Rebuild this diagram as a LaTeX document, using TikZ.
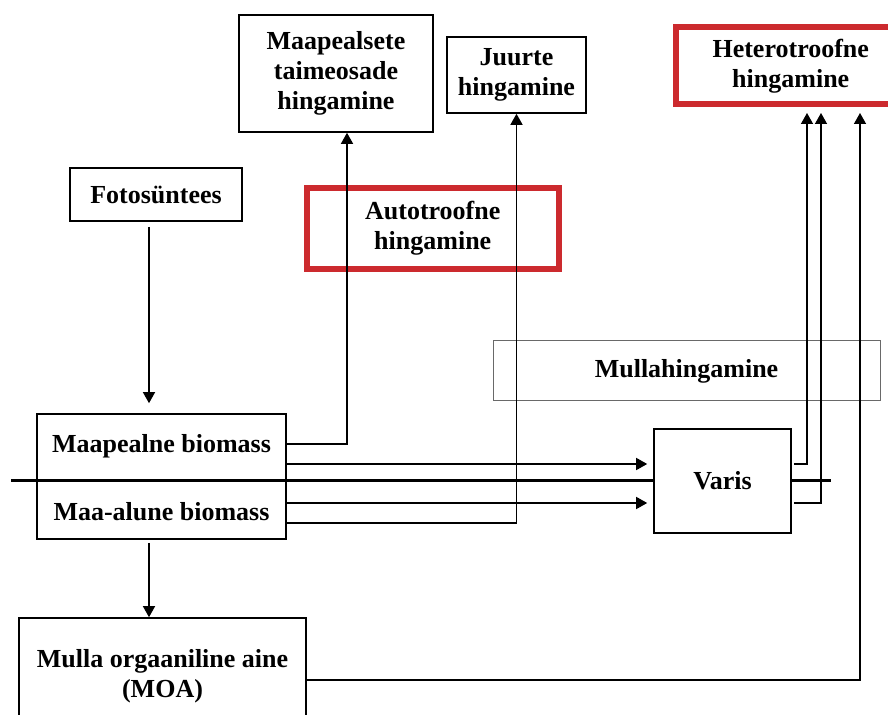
\documentclass[tikz,border=0pt]{standalone}
\usepackage{fontspec}
\setmainfont{Liberation Serif}
\usetikzlibrary{calc, positioning, arrows.meta}
\definecolor{redframe}{RGB}{204,42,46}
\definecolor{mullagray}{RGB}{105,105,105}

\begin{document}
\begin{tikzpicture}[x=0.5pt, y=-0.5pt,
    box/.style={draw, rectangle, line width=0.8pt, inner sep=0pt, align=center,
        font=\fontsize{13}{15}\selectfont\bfseries},
    redbox/.style={box, draw=redframe, line width=3pt},
    txt/.style={inner sep=0pt, font=\fontsize{13}{15}\selectfont\bfseries},
    flow/.style={line width=0.7pt, -{Triangle[length=5.5pt,width=6pt]}}]
%------------------------------
% page frame
%______________________________
\useasboundingbox (0,0) rectangle (888,715);
\clip (0,0) rectangle (888,715);
%
% respiration boxes
\node[box, minimum width=97pt, minimum height=58.5pt] (maapealsete) at (336,73.5) {Maapealsete\\taimeosade\\hingamine};
\node[box, minimum width=69.5pt, minimum height=38pt] (juurte) at (516.5,75) {Juurte\\hingamine};
\node[redbox, minimum width=115.25pt, minimum height=38.75pt] (hetero) at (790.75,65.75) {Heterotroofne\\hingamine};
\node[redbox, minimum width=125.75pt, minimum height=40.5pt] (auto) at (432.75,228.5) {Autotroofne\\hingamine};
\node[box, minimum width=86pt, minimum height=26.5pt] (foto) at (156,194.5) {Fotos\"untees};
\node[box, draw=mullagray, line width=0.5pt, minimum width=193.5pt, minimum height=30pt] (mulla) at (686.5,371) {Mullahingamine};
%
% biomass and soil
\node[box, minimum width=124.5pt, minimum height=62.5pt] (biomass) at (161.5,476.5) {};
\node[txt] (maapealne) at (161.5,446) {Maapealne biomass};
\node[txt] (maaalune) at (161.5,512) {Maa-alune biomass};
\node[box, minimum width=143.5pt, minimum height=58pt] (moa) at (162.5,676) {Mulla orgaaniline aine\\(MOA)};
%
% ground surface
\draw[line width=1.5pt] (11,481) -- (831,481);
\node[box, fill=white, minimum width=68.5pt, minimum height=52pt] (varis) at (722.5,481) {Varis};
%
%------------------------------
% fluxes
%______________________________
\draw[flow, shorten <=2.5pt, shorten >=5pt] ($(foto.south)+(-7,0)$) -- ($(biomass.north)+(-12.5,0)$);
\draw[flow] ($(biomass.east)+(0,-32.5)$) -| ($(maapealsete.south)+(11,0)$);
\draw[flow, shorten >=3pt] ($(biomass.east)+(0,-12.5)$) -- ($(varis.west)+(0,-17)$);
\draw[flow, shorten >=3pt] ($(biomass.east)+(0,26.5)$) -- ($(varis.west)+(0,22)$);
\draw[flow] ($(biomass.east)+(0,46.5)$) -| (juurte.south);
\draw[flow, shorten <=1.5pt] ($(biomass.south)+(-12.5,0)$) -- ($(moa.north)+(-13.5,0)$);
%
\draw[flow, shorten >=2.75pt] ($(varis.east)+(2,-17)$) -| ($(hetero.south)+(16.25,0)$);
\draw[flow, shorten >=2.75pt] ($(varis.east)+(2,22)$) -| ($(hetero.south)+(30.25,0)$);
\draw[flow, shorten >=2.75pt] ($(moa.east)+(0,4)$) -| ($(hetero.south)+(69.25,0)$);
\end{tikzpicture}
\end{document}
